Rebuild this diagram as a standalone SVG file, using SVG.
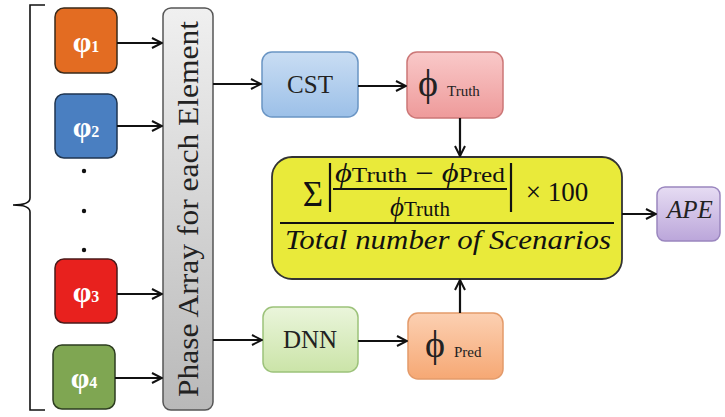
<svg xmlns="http://www.w3.org/2000/svg" width="725" height="417" viewBox="0 0 725 417">
<defs>
<style>
.cn{stroke:#111;stroke-width:2.2;fill:none}
.ph{font-weight:bold;fill:#fff}
.lbl{fill:#222}
.box{stroke-width:1.5}
.m{fill:#111}
</style>
<marker id="ah" viewBox="0 0 12 12" refX="11" refY="6" markerWidth="12" markerHeight="12" markerUnits="userSpaceOnUse" orient="auto">
<path d="M1,1 L11,6 L1,11" fill="none" stroke="#111" stroke-width="2"/>
</marker>
<linearGradient id="gGray" x1="0" y1="0" x2="0" y2="1"><stop offset="0" stop-color="#f0f0f0"/><stop offset="1" stop-color="#b9b9b9"/></linearGradient>
<linearGradient id="gBlue" x1="0" y1="0" x2="0" y2="1"><stop offset="0" stop-color="#c9ddf3"/><stop offset="1" stop-color="#9cc0e8"/></linearGradient>
<linearGradient id="gPink" x1="0" y1="0" x2="0" y2="1"><stop offset="0" stop-color="#f9c9c9"/><stop offset="1" stop-color="#ee9a9a"/></linearGradient>
<linearGradient id="gGreen" x1="0" y1="0" x2="0" y2="1"><stop offset="0" stop-color="#eaf5db"/><stop offset="1" stop-color="#cbe4a8"/></linearGradient>
<linearGradient id="gOrange" x1="0" y1="0" x2="0" y2="1"><stop offset="0" stop-color="#fcd0b2"/><stop offset="1" stop-color="#f6a874"/></linearGradient>
<linearGradient id="gPurple" x1="0" y1="0" x2="0" y2="1"><stop offset="0" stop-color="#e6dcf3"/><stop offset="1" stop-color="#bba6da"/></linearGradient>
</defs>
<rect width="725" height="417" fill="#fff"/>

<g id="bracket">
<path d="M45,5 L30,5 L30,198 Q30,205 13,205 Q30,205 30,212 L30,410 L45,410" fill="none" stroke="#111" stroke-width="1.6"/>
</g>

<g font-family="Liberation Serif, DejaVu Serif, serif">
<g id="phi1">
<rect x="55" y="8" width="62" height="65" rx="9" fill="#e36c22" stroke="#3a2a1a" class="box"/>
<text x="86" y="52" text-anchor="middle" class="ph" font-size="30">φ<tspan font-size="16">1</tspan></text>
</g>
<g id="phi2">
<rect x="55" y="94" width="62" height="64" rx="9" fill="#4a7fc1" stroke="#1f3550" class="box"/>
<text x="86" y="137" text-anchor="middle" class="ph" font-size="30">φ<tspan font-size="16">2</tspan></text>
</g>
<g id="dots">
<circle cx="84" cy="171" r="2.2" fill="#111"/>
<circle cx="84" cy="211" r="2.2" fill="#111"/>
<circle cx="84" cy="250" r="2.2" fill="#111"/>
</g>
<g id="phi3">
<rect x="55" y="259" width="62" height="64" rx="9" fill="#e8211e" stroke="#4a1a1a" class="box"/>
<text x="86" y="302" text-anchor="middle" class="ph" font-size="30">φ<tspan font-size="16">3</tspan></text>
</g>
<g id="phi4">
<rect x="53" y="345" width="62" height="64" rx="9" fill="#7fa652" stroke="#2d3d20" class="box"/>
<text x="84" y="388" text-anchor="middle" class="ph" font-size="30">φ<tspan font-size="16">4</tspan></text>
</g>

<g id="phase-array">
<rect x="163" y="8" width="50" height="402" rx="8" fill="url(#gGray)" stroke="#555" class="box"/>
<text transform="translate(198,209) rotate(-90)" text-anchor="middle" class="lbl" font-size="29" textLength="376" lengthAdjust="spacingAndGlyphs">Phase Array for each Element</text>
</g>

<g id="cst">
<rect x="262" y="52" width="96" height="65" rx="10" fill="url(#gBlue)" stroke="#6a95c4" class="box"/>
<text x="310" y="93" text-anchor="middle" class="lbl" font-size="25">CST</text>
</g>
<g id="phi-truth">
<rect x="407" y="52" width="96" height="66" rx="10" fill="url(#gPink)" stroke="#c77" class="box"/>
<text x="418" y="96" class="lbl" font-size="38">ϕ</text>
<text x="447" y="96" class="lbl" font-size="15">Truth</text>
</g>
<g id="dnn">
<rect x="263" y="307" width="95" height="65" rx="10" fill="url(#gGreen)" stroke="#9cc27a" class="box"/>
<text x="310" y="348" text-anchor="middle" class="lbl" font-size="25">DNN</text>
</g>
<g id="phi-pred">
<rect x="408" y="313" width="95" height="66" rx="10" fill="url(#gOrange)" stroke="#e39a6a" class="box"/>
<text x="425" y="357" class="lbl" font-size="38">ϕ</text>
<text x="454" y="357" class="lbl" font-size="15">Pred</text>
</g>

<g id="ape-formula">
<rect x="272" y="157" width="350" height="122" rx="20" fill="#e9ea3a" stroke="#333" stroke-width="1.8"/>
<text x="313" y="206" text-anchor="middle" class="m" font-size="35">Σ</text>
<line x1="330" y1="163" x2="330" y2="212" stroke="#111" stroke-width="2.2"/>
<line x1="511" y1="163" x2="511" y2="212" stroke="#111" stroke-width="2.2"/>
<text x="420" y="182" text-anchor="middle" class="m" font-size="27" textLength="170" lengthAdjust="spacingAndGlyphs"><tspan font-style="italic">ϕ</tspan><tspan font-size="21">Truth</tspan> − <tspan font-style="italic">ϕ</tspan><tspan font-size="21">Pred</tspan></text>
<line x1="333" y1="189" x2="507" y2="189" stroke="#111" stroke-width="1.8"/>
<text x="420" y="216" text-anchor="middle" class="m" font-size="27"><tspan font-style="italic">ϕ</tspan><tspan font-size="21">Truth</tspan></text>
<text x="557" y="201" text-anchor="middle" class="m" font-size="27">× 100</text>
<line x1="280" y1="223" x2="614" y2="223" stroke="#111" stroke-width="1.8"/>
<text x="448" y="249" text-anchor="middle" class="m" font-size="28" font-style="italic" textLength="326" lengthAdjust="spacingAndGlyphs">Total number of Scenarios</text>
</g>

<g id="ape">
<rect x="657" y="187" width="63" height="54" rx="8" fill="url(#gPurple)" stroke="#9a86bf" class="box"/>
<text x="690" y="218" text-anchor="middle" class="lbl" font-size="25" font-style="italic">APE</text>
</g>
</g>

<g id="connectors">
<line x1="117" y1="43" x2="162" y2="43" class="cn" marker-end="url(#ah)"/>
<line x1="117" y1="126" x2="162" y2="126" class="cn" marker-end="url(#ah)"/>
<line x1="117" y1="294" x2="162" y2="294" class="cn" marker-end="url(#ah)"/>
<line x1="115" y1="378" x2="162" y2="378" class="cn" marker-end="url(#ah)"/>
<line x1="213" y1="84" x2="261" y2="84" class="cn" marker-end="url(#ah)"/>
<line x1="213" y1="340" x2="262" y2="340" class="cn" marker-end="url(#ah)"/>
<line x1="358" y1="86" x2="406" y2="86" class="cn" marker-end="url(#ah)"/>
<line x1="358" y1="341" x2="407" y2="341" class="cn" marker-end="url(#ah)"/>
<line x1="460" y1="118" x2="460" y2="156" class="cn" marker-end="url(#ah)"/>
<line x1="460" y1="313" x2="460" y2="280" class="cn" marker-end="url(#ah)"/>
<line x1="622" y1="214" x2="656" y2="214" class="cn" marker-end="url(#ah)"/>
</g>
</svg>
